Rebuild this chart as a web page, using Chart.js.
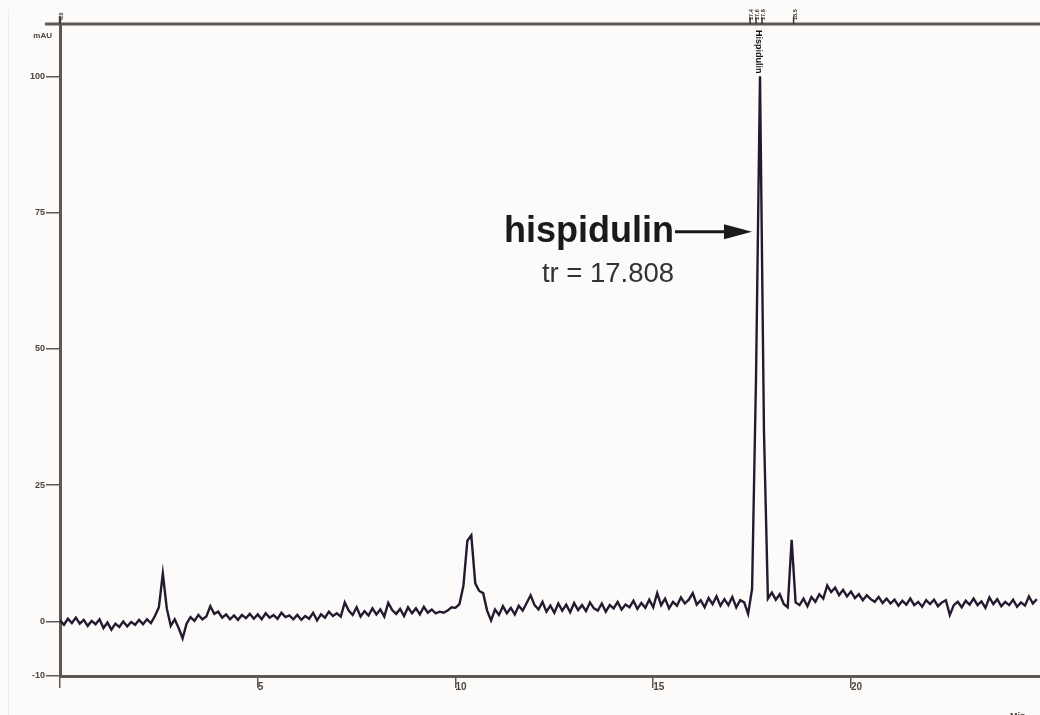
<!DOCTYPE html>
<html><head><meta charset="utf-8">
<script src="https://cdn.jsdelivr.net/npm/chart.js@4.4.1/dist/chart.umd.min.js"></script>
<style>html,body{margin:0;padding:0;background:#fcfbfa;overflow:hidden}canvas{display:block}</style>
</head><body><canvas id="c" width="1040" height="715"></canvas>
<script>
// sampling grid of the detector trace (minutes)
const sampleStart = 0.0;
const sampleStep = 0.1;
// absorbance (mAU), one value per sample
const absorbance = [
  0.2, -0.6, 0.5, -0.3, 0.7, -0.4, 0.3, -0.8, 0.1, -0.5,
  0.4, -1.2, -0.2, -1.5, -0.4, -1.0, 0.0, -0.9, -0.1, -0.6,
  0.3, -0.5, 0.4, -0.3, 1.0, 2.6, 8.8, 2.4, -0.8, 0.4,
  -1.2, -3.1, -0.4, 0.8, 0.1, 1.2, 0.4, 0.9, 2.8, 1.4,
  1.8, 0.7, 1.3, 0.4, 1.1, 0.3, 1.2, 0.6, 1.4, 0.5,
  1.3, 0.4, 1.5, 0.7, 1.2, 0.5, 1.6, 0.8, 1.1, 0.4,
  1.2, 0.3, 1.0, 0.5, 1.6, 0.2, 1.3, 0.7, 1.8, 1.0,
  1.5, 0.9, 3.5, 2.0, 1.2, 2.6, 0.9, 1.9, 1.1, 2.4,
  1.3, 2.2, 0.9, 3.4, 2.1, 1.4, 2.3, 1.0, 2.6, 1.5,
  2.4, 1.3, 2.7, 1.6, 2.2, 1.5, 1.8, 1.6, 2.0, 2.6,
  2.5, 3.2, 6.5, 14.8, 15.8, 7.0, 5.6, 5.2, 2.0, 0.2,
  2.2, 1.2, 2.8, 1.5, 2.5, 1.3, 2.9, 2.0, 3.4, 4.8,
  3.0, 2.2, 3.6, 1.8, 2.9, 1.6, 3.3, 2.0, 3.1, 1.7,
  3.4, 2.1, 3.0, 1.9, 3.5, 2.4, 2.0, 3.3, 1.8, 3.0,
  2.4, 3.6, 2.2, 3.1, 2.6, 3.8, 2.3, 3.4, 2.5, 4.0,
  2.6, 5.2, 3.0, 4.2, 2.4, 3.6, 2.9, 4.4, 3.3, 4.0,
  5.2, 3.1, 3.9, 2.6, 4.3, 3.2, 4.6, 2.9, 4.1, 3.0,
  4.5, 2.6, 3.9, 3.5, 1.4, 6.0, 45.0, 100.0, 35.0, 4.2,
  5.3, 4.0, 5.0, 3.2, 2.6, 15.0, 3.5, 3.0, 4.2, 2.8,
  4.5, 3.6, 5.0, 4.2, 6.6, 5.4, 6.2, 4.8, 5.8, 4.6,
  5.5, 4.3, 5.0, 3.9, 4.8, 4.1, 3.6, 4.5, 3.4, 4.2,
  3.3, 4.0, 2.9, 3.8, 3.1, 4.2, 3.0, 3.6, 2.7, 3.9,
  3.2, 4.0, 2.8, 3.5, 3.9, 1.2, 3.0, 3.6, 2.6, 3.8,
  3.1, 4.2, 3.0, 3.7, 2.5, 4.4, 3.2, 4.1, 2.8, 3.6,
  3.0, 4.0, 2.7, 3.5, 2.9, 4.6, 3.3, 4.1
];
const yTickValues = [-10, 0, 25, 50, 75, 100];
const xTickValues = [0, 5, 10, 15, 20];
const yUnit = 'mAU';
const xUnit = 'Min';
const compoundName = 'hispidulin';
const compoundLabel = 'Hispidulin';
const retentionText = 'tr = 17.808';
const peakTime = 17.7;
const arrowLevel = 71.5;
const topMarkerTimes = [0.0, 17.45, 17.6, 17.75, 18.55];
const topMarkerTexts = ['0.0', '17.4', '17.6', '17.8', '18.5'];

const points = absorbance.map((v, i) => ({ x: +(sampleStart + i * sampleStep).toFixed(2), y: v }));
const axisColor = '#5e5852';
const FONT = 'Liberation Sans, Arial, sans-serif';

const decor = {
  id: 'decor',
  beforeDraw(chart) {
    const c = chart.ctx;
    c.save();
    c.fillStyle = '#fcfbfa';
    c.fillRect(0, 0, chart.width, chart.height);
    c.strokeStyle = '#efedeb';
    c.lineWidth = 1;
    c.beginPath(); c.moveTo(8.5, 10); c.lineTo(8.5, chart.height); c.stroke();
    c.restore();
  },
  afterDraw(chart) {
    const c = chart.ctx, a = chart.chartArea;
    const xs = chart.scales.x, ys = chart.scales.y;
    c.save();
    // top frame line
    c.strokeStyle = axisColor; c.lineWidth = 3;
    c.beginPath(); c.moveTo(a.left - 15, a.top); c.lineTo(a.right, a.top); c.stroke();
    // axis extension above frame
    c.lineWidth = 2.5;
    c.beginPath(); c.moveTo(a.left, a.top - 8); c.lineTo(a.left, a.top); c.stroke();
    // top peak markers
    c.fillStyle = '#3a3530'; c.strokeStyle = '#3a3530'; c.lineWidth = 1.5;
    c.font = 'bold 5.5px ' + FONT;
    topMarkerTimes.forEach((t, i) => {
      const px = xs.getPixelForValue(t);
      c.beginPath(); c.moveTo(px, a.top); c.lineTo(px, a.top - 7); c.stroke();
      c.save(); c.translate(px + 1.5, a.top - 4); c.rotate(-Math.PI / 2);
      c.textAlign = 'left'; c.textBaseline = 'middle';
      c.fillText(topMarkerTexts[i], 0, 0);
      c.restore();
    });
    // y unit
    c.fillStyle = '#4a4540'; c.font = 'bold 8px ' + FONT;
    c.textAlign = 'right'; c.textBaseline = 'alphabetic';
    c.fillText(yUnit, a.left - 8, a.top + 14);
    // x unit (partly cut at the bottom edge)
    c.textAlign = 'left'; c.font = 'bold 9px ' + FONT;
    c.fillText(xUnit, a.right - 30, chart.height + 4);
    // vertical peak label
    const pk = xs.getPixelForValue(peakTime);
    c.save(); c.translate(pk - 2, ys.getPixelForValue(101) - 41); c.rotate(Math.PI / 2);
    c.fillStyle = '#111'; c.font = 'bold 9px ' + FONT;
    c.textAlign = 'left'; c.textBaseline = 'middle';
    c.fillText(compoundLabel, 0, 0);
    c.restore();
    // annotation arrow
    const tipX = pk - 8, tipY = ys.getPixelForValue(arrowLevel);
    c.fillStyle = '#1a1a1a'; c.strokeStyle = '#1a1a1a'; c.lineWidth = 3;
    c.beginPath(); c.moveTo(tipX - 77, tipY); c.lineTo(tipX - 24, tipY); c.stroke();
    c.beginPath(); c.moveTo(tipX, tipY); c.lineTo(tipX - 28, tipY - 7.5); c.lineTo(tipX - 28, tipY + 7.5); c.closePath(); c.fill();
    c.font = 'bold 36px ' + FONT; c.textAlign = 'right'; c.textBaseline = 'alphabetic';
    c.fillText(compoundName, tipX - 78, tipY + 10);
    c.fillStyle = '#333'; c.font = '27.5px ' + FONT; c.textAlign = 'center';
    c.fillText(retentionText, tipX - 144, tipY + 50);
    c.restore();
  }
};

new Chart(document.getElementById('c'), {
  type: 'line',
  data: {
    datasets: [{
      data: points,
      borderColor: '#221b30',
      borderWidth: 2.4,
      pointRadius: 0,
      tension: 0,
      fill: false
    }]
  },
  options: {
    responsive: false,
    animation: false,
    events: [],
    layout: { padding: { top: 24, left: 0, right: 0, bottom: 0 } },
    plugins: { legend: { display: false }, tooltip: { enabled: false } },
    scales: {
      x: {
        type: 'linear', min: 0, max: 24.78,
        afterBuildTicks: s => { s.ticks = xTickValues.map(v => ({ value: v })); },
        afterFit: s => { s.height = 39; },
        grid: { display: true, drawOnChartArea: false, drawTicks: true, tickLength: 12, color: axisColor, lineWidth: 1.5 },
        border: { display: true, color: axisColor, width: 3 },
        ticks: {
          align: 'start', padding: -7, maxRotation: 0, autoSkip: false,
          color: '#4a4540', font: { family: FONT, size: 10, weight: 'bold' },
          callback: v => (v === 0 ? '' : String(v))
        }
      },
      y: {
        type: 'linear', min: -10, max: 109.6,
        afterBuildTicks: s => { s.ticks = yTickValues.map(v => ({ value: v })); },
        afterFit: s => { s.width = 60; },
        grid: { display: true, drawOnChartArea: false, drawTicks: true, tickLength: 14, color: axisColor, lineWidth: 1.5 },
        border: { display: true, color: axisColor, width: 3 },
        ticks: {
          padding: 1, autoSkip: false,
          color: '#4a4540', font: { family: FONT, size: 9, weight: 'bold' },
          callback: v => String(v)
        }
      }
    }
  },
  plugins: [decor]
});
</script>
</body></html>
